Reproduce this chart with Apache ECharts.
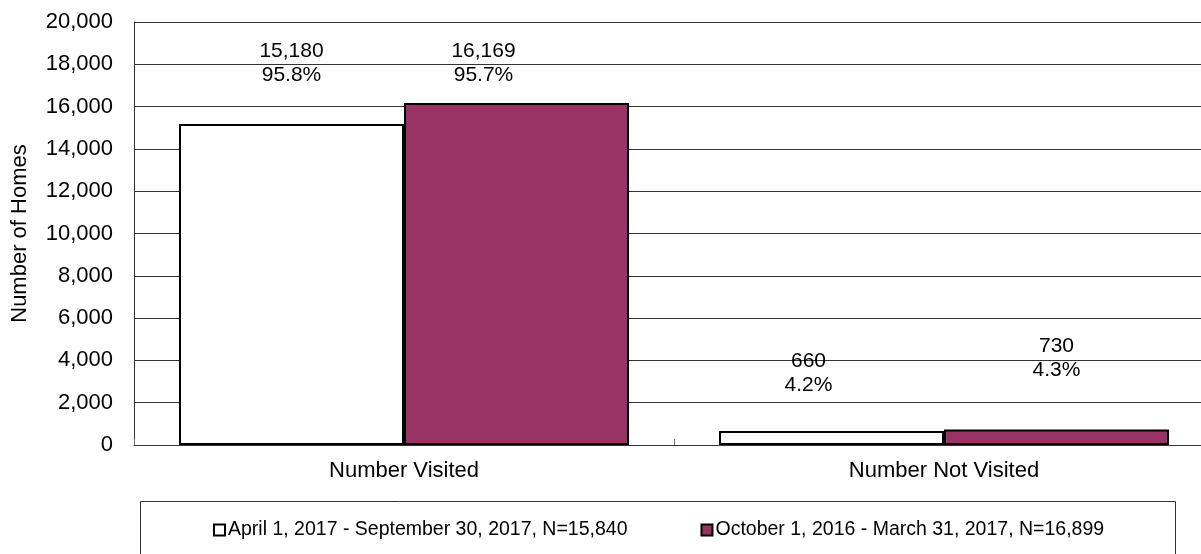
<!DOCTYPE html>
<html>
<head>
<meta charset="utf-8">
<script src="https://cdn.jsdelivr.net/npm/echarts@6/dist/echarts.min.js"></script>
<style>
html,body{margin:0;padding:0;background:#fff;overflow:hidden;width:1201px;height:554px;}
#chart{width:1214px;height:554px;}
</style>
</head>
<body>
<div id="chart"></div>
<script>
// ---- data ----
const categories = ['Number Visited', 'Number Not Visited'];
const seriesNames = [
  'April 1, 2017 - September 30, 2017, N=15,840',
  'October 1, 2016 - March 31, 2017, N=16,899'
];
const homesApr = [15180, 660];
const pctApr = [95.8, 4.2];
const homesOct = [16169, 730];
const pctOct = [95.7, 4.3];
const yMin = 0, yMax = 20000, yStep = 2000;

// ---- layout / style (kept apart from data) ----
const FONT = 'Arial, "Liberation Sans", sans-serif';
const labelDistApr = [37, 34], labelOffApr = [0, -23];
const labelDistOct = [16, 47], labelOffOct = [-33, 0];

function fmt(n) { return n.toLocaleString('en-US'); }

function build(values, pcts, dists, offs) {
  return values.map((v, i) => ({
    value: v,
    label: {
      show: true, position: 'top', distance: dists[i], offset: [offs[i], 0],
      formatter: fmt(v) + '\n' + pcts[i].toFixed(1) + '%',
      fontFamily: FONT, fontSize: 21, lineHeight: 24, color: '#000', align: 'center'
    }
  }));
}

const chart = echarts.init(document.getElementById('chart'), null, { renderer: 'canvas' });
chart.setOption({
  animation: false,
  backgroundColor: '#fff',
  textStyle: { fontFamily: FONT },
  grid: { left: 134, top: 22, right: 0, bottom: 109, containLabel: false },
  xAxis: {
    type: 'category',
    data: categories,
    axisLine: { show: true, lineStyle: { color: '#333', width: 1 } },
    axisTick: { show: true, inside: true, length: 6, lineStyle: { color: '#777' } },
    axisLabel: { fontFamily: FONT, fontSize: 22, color: '#000', margin: 15 },
    splitLine: { show: false }
  },
  yAxis: {
    type: 'value',
    min: yMin, max: yMax, interval: yStep,
    name: 'Number of Homes',
    nameLocation: 'middle',
    nameGap: 103,
    nameTextStyle: { fontFamily: FONT, fontSize: 22, color: '#000' },
    axisLine: { show: true, lineStyle: { color: '#333', width: 1 } },
    axisTick: { show: false },
    axisLabel: { fontFamily: FONT, fontSize: 22, color: '#000', margin: 21, formatter: v => fmt(v) },
    splitLine: { show: true, lineStyle: { color: '#333', width: 1 } }
  },
  legend: {
    left: 213, top: 520, padding: 0,
    icon: 'rect',
    itemWidth: 11, itemHeight: 11, itemGap: 73,
    textStyle: { fontFamily: FONT, fontSize: 19.5, color: '#000', padding: [0, 0, 0, -2] },
    data: seriesNames
  },
  graphic: [{
    type: 'rect', left: 138, top: 499, silent: true,
    shape: { width: 1035, height: 80 },
    style: { fill: 'none', stroke: '#333', lineWidth: 1 }
  }],
  series: [
    {
      name: seriesNames[0], type: 'bar', barWidth: 225, barGap: '0%',
      itemStyle: { color: '#ffffff', borderColor: '#000', borderWidth: 2 },
      data: build(homesApr, pctApr, labelDistApr, labelOffApr)
    },
    {
      name: seriesNames[1], type: 'bar', barWidth: 225, barGap: '0%',
      itemStyle: { color: '#993366', borderColor: '#000', borderWidth: 2 },
      data: build(homesOct, pctOct, labelDistOct, labelOffOct)
    }
  ]
});
</script>
</body>
</html>
